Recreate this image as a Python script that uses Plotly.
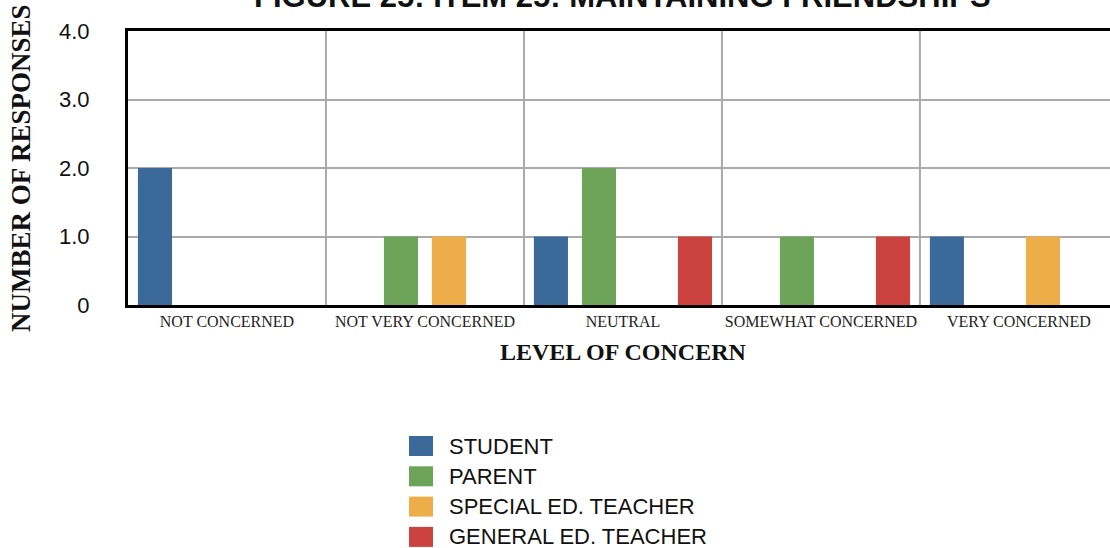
import plotly.graph_objects as go

categories = ["NOT CONCERNED", "NOT VERY CONCERNED", "NEUTRAL", "SOMEWHAT CONCERNED", "VERY CONCERNED"]
series_names = ["STUDENT", "PARENT", "SPECIAL ED. TEACHER", "GENERAL ED. TEACHER"]
student = [2, 0, 1, 0, 1]
parent = [0, 1, 2, 1, 0]
special_ed = [0, 1, 0, 0, 1]
general_ed = [0, 0, 1, 1, 0]
y_tick_vals = [0, 1, 2, 3, 4]
y_tick_text = ["0", "1.0", "2.0", "3.0", "4.0"]
colors = ["#3b6a9a", "#6ea45a", "#edae4a", "#cb423e"]

W, H = 1110, 548
L, T, B, R = 128, 31, 243, 0
PW = W - L - R
PH = H - T - B

fig = go.Figure()
for name, vals, col in zip(series_names, [student, parent, special_ed, general_ed], colors):
    fig.add_trace(go.Bar(x=categories, y=vals, name=name, marker=dict(color=col, line=dict(width=0)),
                         showlegend=False))

def px_x(px):
    return (px - L) / PW

def px_y(py):
    return (H - B - py) / PH

# vertical category separators
for i in range(len(categories) - 1):
    fig.add_shape(type="line", xref="x", yref="paper", x0=i + 0.5, x1=i + 0.5, y0=0, y1=1,
                  line=dict(color="#aaaaaa", width=2), layer="below")

serif = "Liberation Serif, Times New Roman, serif"
sans = "Liberation Sans, Helvetica, Arial, sans-serif"

# title
fig.add_annotation(text="<b>FIGURE 25: ITEM 25: MAINTAINING FRIENDSHIPS</b>", xref="x", x=2, yref="paper", y=1,
                   yanchor="bottom", xanchor="center", yshift=15, showarrow=False,
                   font=dict(family=sans, size=31, color="#111111"))
# y title
fig.add_annotation(text="<b>NUMBER OF RESPONSES</b>", xref="paper", x=0, xshift=-107, yref="paper", y=0.5,
                   textangle=-90, xanchor="center", yanchor="middle", showarrow=False,
                   font=dict(family=serif, size=27, color="#111111"))
# x title
fig.add_annotation(text="<b>LEVEL OF CONCERN</b>", xref="x", x=2, yref="paper", y=0, yshift=-47,
                   xanchor="center", yanchor="middle", showarrow=False,
                   font=dict(family=serif, size=24, color="#111111"))

# custom legend
for i, (name, col) in enumerate(zip(series_names, colors)):
    cy = 446 + 30.3 * i
    fig.add_shape(type="rect", xref="paper", yref="paper", x0=px_x(409), x1=px_x(433),
                  y0=px_y(cy + 10), y1=px_y(cy - 10), fillcolor=col, line=dict(width=0))
    fig.add_annotation(text=name, xref="paper", yref="paper", x=px_x(447), y=px_y(cy), xanchor="left",
                       yanchor="middle", showarrow=False, font=dict(family=sans, size=22, color="#111111"))

fig.update_layout(
    width=W, height=H,
    margin=dict(l=L, r=R, t=T, b=B, autoexpand=False),
    paper_bgcolor="white", plot_bgcolor="white",
    barmode="group", bargap=0.03, bargroupgap=0.29,
    showlegend=False,
)
fig.update_xaxes(range=[-0.5, 4.46], showgrid=False, showline=True, linecolor="black", linewidth=3,
                 mirror=True, ticks="", tickfont=dict(family=serif, size=16, color="#222222"),
                 fixedrange=True)
fig.update_yaxes(range=[0, 4], tickvals=y_tick_vals, ticktext=y_tick_text, showgrid=True,
                 gridcolor="#aaaaaa", gridwidth=2, zeroline=False, showline=True, linecolor="black",
                 linewidth=3, ticks="", ticklabelstandoff=31,
                 tickfont=dict(family=sans, size=22, color="#111111"), fixedrange=True)

fig.write_html("out.html", config={"displayModeBar": False},
               post_script="document.body.style.margin='0px';document.body.style.padding='0px';")
